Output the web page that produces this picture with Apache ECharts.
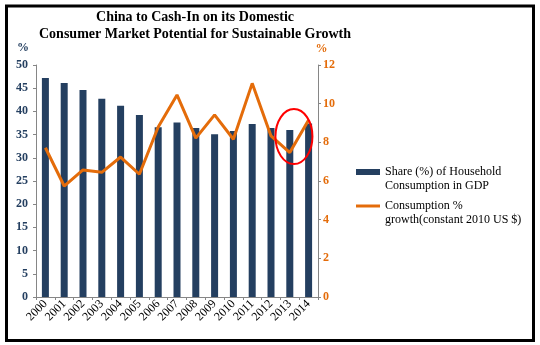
<!DOCTYPE html>
<html>
<head>
<meta charset="utf-8">
<style>
  html, body { margin: 0; padding: 0; background: #ffffff; }
  #chart { width: 540px; height: 345px; }
</style>
<script src="https://cdn.jsdelivr.net/npm/echarts@6/dist/echarts.min.js"></script>
</head>
<body>
<div id="chart"></div>
<script>
// Years on the category axis
const years = ['2000', '2001', '2002', '2003', '2004', '2005', '2006', '2007',
               '2008', '2009', '2010', '2011', '2012', '2013', '2014'];
// Household consumption as a share of GDP (%), left axis
const householdShare = [47.2, 46.1, 44.6, 42.7, 41.2, 39.2, 36.6, 37.6,
                        36.4, 35.1, 35.8, 37.3, 36.4, 36.0, 37.4];
// Consumption growth, constant 2010 US $ (%), right axis
const consumptionGrowth = [7.72, 5.74, 6.57, 6.45, 7.24, 6.35, 8.79, 10.45,
                           8.22, 9.42, 8.16, 11.05, 8.33, 7.47, 9.16];
// Axis tick values
const leftTicks = [0, 5, 10, 15, 20, 25, 30, 35, 40, 45, 50];
const rightTicks = [0, 2, 4, 6, 8, 10, 12];

const shareName = 'Share (%) of Household\nConsumption in GDP';
const growthName = 'Consumption %\ngrowth(constant 2010 US $)';

const NAVY = '#243F60';
const ORANGE = '#E46C0A';
const AXIS_GRAY = '#868686';
const SERIF = '"Liberation Serif", "Times New Roman", serif';

const chart = echarts.init(document.getElementById('chart'), null, { renderer: 'canvas' });

const legendText = {
  fontFamily: SERIF,
  fontSize: 12,
  color: '#000000',
  lineHeight: 14
};
// A leading blank line keeps the first line of each two-line entry level with its icon
const legendFormatter = (name) => '\n' + name;

const option = {
  backgroundColor: '#ffffff',
  animation: false,
  title: {
    text: 'China to Cash-In on its Domestic\nConsumer Market Potential for Sustainable Growth',
    left: 195,
    top: 9,
    textAlign: 'center',
    padding: 0,
    textStyle: {
      fontFamily: SERIF,
      fontSize: 14,
      fontWeight: 'bold',
      color: '#000000',
      lineHeight: 17
    }
  },
  grid: { left: 36, right: 222, top: 65, bottom: 48, containLabel: false },
  legend: [
    {
      data: [{ name: shareName, icon: 'rect' }],
      orient: 'vertical',
      left: 356,
      top: 151,
      padding: 0,
      itemWidth: 24,
      itemHeight: 6,
      itemGap: 0,
      formatter: legendFormatter,
      textStyle: legendText
    },
    {
      data: [{ name: growthName, icon: 'rect' }],
      orient: 'vertical',
      left: 356,
      top: 185,
      padding: 0,
      itemWidth: 24,
      itemHeight: 3,
      itemGap: 0,
      formatter: legendFormatter,
      textStyle: legendText
    }
  ],
  xAxis: {
    type: 'category',
    data: years,
    boundaryGap: true,
    axisLine: { show: true, lineStyle: { color: AXIS_GRAY, width: 1 } },
    axisTick: { show: true, length: 3, lineStyle: { color: AXIS_GRAY } },
    axisLabel: {
      rotate: 45,
      interval: 0,
      margin: 5,
      fontFamily: SERIF,
      fontSize: 12,
      color: '#000000'
    },
    splitLine: { show: false }
  },
  yAxis: [
    {
      type: 'value',
      position: 'left',
      min: leftTicks[0],
      max: leftTicks[leftTicks.length - 1],
      interval: leftTicks[1] - leftTicks[0],
      name: '%',
      nameLocation: 'end',
      nameGap: 11,
      nameTextStyle: {
        fontFamily: SERIF, fontSize: 12, fontWeight: 'bold', color: NAVY,
        align: 'right', padding: [0, 7, 0, 0]
      },
      axisLine: { show: true, lineStyle: { color: AXIS_GRAY, width: 1 } },
      axisTick: { show: true, length: 3, lineStyle: { color: AXIS_GRAY } },
      axisLabel: {
        margin: 8,
        fontFamily: SERIF, fontSize: 12, fontWeight: 'bold', color: NAVY
      },
      splitLine: { show: false }
    },
    {
      type: 'value',
      position: 'right',
      min: rightTicks[0],
      max: rightTicks[rightTicks.length - 1],
      interval: rightTicks[1] - rightTicks[0],
      name: '%',
      nameLocation: 'end',
      nameGap: 10,
      nameTextStyle: {
        fontFamily: SERIF, fontSize: 12, fontWeight: 'bold', color: ORANGE,
        align: 'center', padding: [0, 0, 0, 7]
      },
      axisLine: { show: true, lineStyle: { color: AXIS_GRAY, width: 1 } },
      axisTick: { show: true, length: 3, lineStyle: { color: AXIS_GRAY } },
      axisLabel: {
        margin: 5,
        fontFamily: SERIF, fontSize: 12, fontWeight: 'bold', color: ORANGE
      },
      splitLine: { show: false }
    }
  ],
  series: [
    {
      name: shareName,
      type: 'bar',
      yAxisIndex: 0,
      data: householdShare,
      barWidth: 7,
      itemStyle: { color: NAVY }
    },
    {
      name: growthName,
      type: 'line',
      yAxisIndex: 1,
      data: consumptionGrowth,
      showSymbol: false,
      symbol: 'none',
      lineStyle: { color: ORANGE, width: 3 },
      itemStyle: { color: ORANGE },
      z: 5
    }
  ]
};

chart.setOption(option);

// Frame around the whole figure and the highlight ring around the 2013 dip
const p13 = chart.convertToPixel({ xAxisIndex: 0, yAxisIndex: 1 }, ['2013', 8.3]);
const p14 = chart.convertToPixel({ xAxisIndex: 0, yAxisIndex: 1 }, ['2014', 8.3]);
const ringX = p13[0] + (p14[0] - p13[0]) * 0.22;

chart.setOption({
  graphic: [
    {
      type: 'rect',
      silent: true,
      z: 100,
      shape: { x: 6.5, y: 6, width: 527, height: 334.5 },
      style: { fill: 'none', stroke: '#000000', lineWidth: 3 }
    },
    {
      type: 'ellipse',
      silent: true,
      z: 100,
      shape: { cx: ringX, cy: p13[1], rx: 18.5, ry: 27.5 },
      style: { fill: 'none', stroke: '#FF0000', lineWidth: 2 }
    }
  ]
});
</script>
</body>
</html>
